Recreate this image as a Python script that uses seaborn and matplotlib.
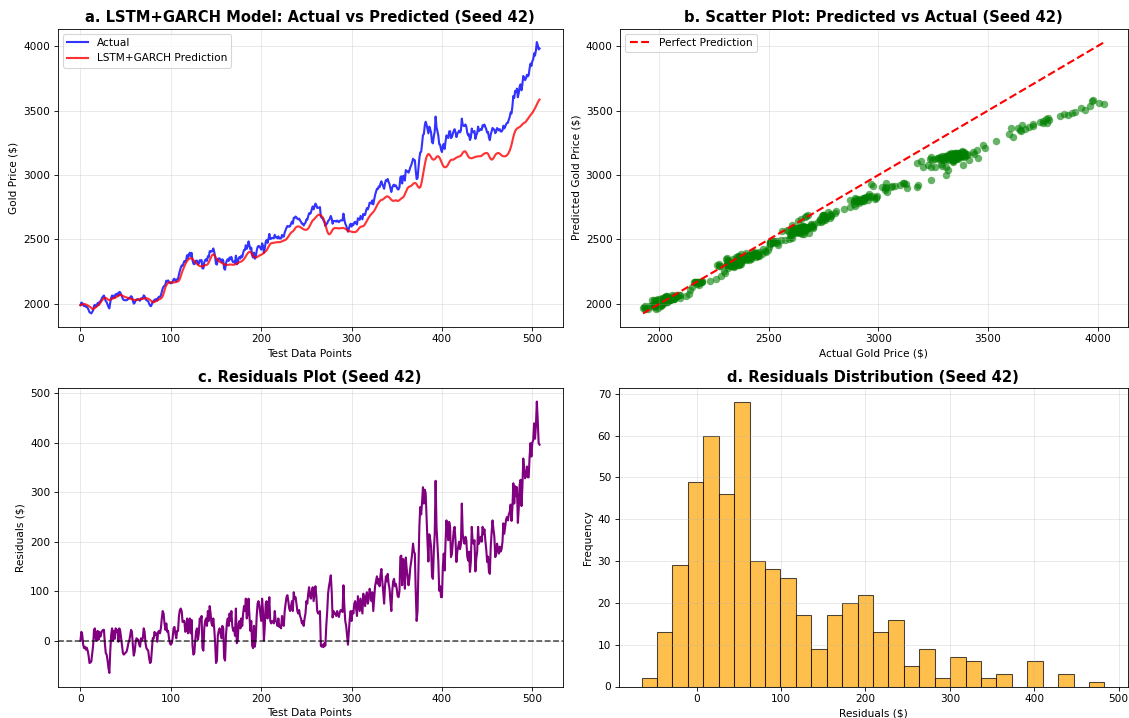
import numpy as np
import pandas as pd
import matplotlib
matplotlib.use("Agg")
import matplotlib.pyplot as plt
import seaborn as sns

# Model output on the test window (USD per ounce)
predicted = [
    1990, 1992, 1995, 1998, 1999, 1998, 1995, 1992, 1988, 1984,
    1980, 1975, 1968, 1962, 1960, 1963, 1968, 1975, 1982, 1987,
    1990, 1998, 2008, 2018, 2028, 2036, 2043, 2048, 2046, 2042,
    2036, 2031, 2030, 2032, 2036, 2040, 2043, 2045, 2046, 2050,
    2055, 2060, 2064, 2068, 2070, 2069, 2066, 2062, 2058, 2055,
    2052, 2050, 2048, 2046, 2043, 2040, 2038, 2036, 2034, 2032,
    2030, 2029, 2030, 2032, 2034, 2036, 2037, 2038, 2039, 2040,
    2041, 2042, 2043, 2044, 2042, 2040, 2036, 2032, 2025, 2018,
    2013, 2012, 2015, 2019, 2023, 2027, 2031, 2035, 2038, 2042,
    2048, 2060, 2080, 2105, 2128, 2145, 2155, 2162, 2166, 2168,
    2168, 2167, 2166, 2166, 2167, 2168, 2170, 2172, 2174, 2180,
    2195, 2215, 2238, 2258, 2275, 2292, 2308, 2322, 2333, 2342,
    2348, 2352, 2355, 2354, 2348, 2340, 2332, 2324, 2316, 2310,
    2304, 2298, 2294, 2291, 2290, 2291, 2294, 2297, 2300, 2302,
    2303, 2310, 2322, 2338, 2355, 2370, 2380, 2385, 2380, 2368,
    2355, 2345, 2338, 2332, 2328, 2324, 2320, 2316, 2312, 2308,
    2305, 2303, 2302, 2302, 2303, 2305, 2306, 2305, 2304, 2303,
    2304, 2306, 2309, 2312, 2316, 2320, 2324, 2327, 2329, 2333,
    2340, 2348, 2358, 2370, 2382, 2392, 2400, 2405, 2404, 2396,
    2385, 2375, 2367, 2362, 2360, 2362, 2366, 2370, 2375, 2379,
    2381, 2385, 2390, 2396, 2402, 2407, 2415, 2428, 2442, 2455,
    2464, 2470, 2472, 2473, 2474, 2476, 2477, 2478, 2479, 2479,
    2479, 2480, 2482, 2485, 2488, 2491, 2494, 2497, 2503, 2512,
    2522, 2533, 2543, 2552, 2558, 2562, 2570, 2580, 2590, 2597,
    2600, 2601, 2600, 2597, 2592, 2587, 2582, 2578, 2576, 2575,
    2575, 2578, 2585, 2595, 2608, 2622, 2636, 2648, 2653, 2660,
    2668, 2676, 2684, 2690, 2692, 2691, 2687, 2680, 2672, 2660,
    2640, 2615, 2590, 2565, 2548, 2540, 2542, 2550, 2562, 2575,
    2583, 2588, 2588, 2588, 2587, 2587, 2586, 2586, 2587, 2588,
    2589, 2588, 2586, 2583, 2578, 2573, 2568, 2565, 2563, 2562,
    2560, 2558, 2557, 2557, 2557, 2560, 2566, 2574, 2584, 2592,
    2598, 2600, 2601, 2603, 2610, 2620, 2632, 2645, 2658, 2670,
    2680, 2690, 2698, 2705, 2712, 2722, 2734, 2748, 2762, 2775,
    2786, 2795, 2802, 2806, 2808, 2812, 2818, 2825, 2830, 2834,
    2834, 2830, 2824, 2816, 2808, 2802, 2799, 2800, 2802, 2804,
    2800, 2799, 2800, 2805, 2812, 2818, 2822, 2826, 2836, 2852,
    2870, 2886, 2898, 2906, 2910, 2912, 2916, 2922, 2930, 2936,
    2938, 2936, 2928, 2915, 2905, 2900, 2905, 2925, 2960, 3000,
    3040, 3080, 3115, 3140, 3155, 3163, 3160, 3150, 3138, 3126,
    3120, 3119, 3122, 3130, 3140, 3145, 3145, 3138, 3125, 3108,
    3090, 3075, 3065, 3060, 3060, 3064, 3072, 3084, 3098, 3110,
    3117, 3119, 3118, 3120, 3125, 3130, 3135, 3138, 3141, 3144,
    3145, 3150, 3160, 3172, 3180, 3184, 3182, 3172, 3158, 3145,
    3136, 3132, 3130, 3130, 3132, 3135, 3138, 3140, 3142, 3144,
    3145, 3145, 3145, 3146, 3150, 3156, 3162, 3166, 3169, 3171,
    3170, 3164, 3150, 3135, 3124, 3119, 3122, 3130, 3142, 3155,
    3163, 3168, 3171, 3170, 3165, 3158, 3152, 3148, 3145, 3145,
    3145, 3148, 3154, 3162, 3175, 3190, 3210, 3235, 3265, 3295,
    3320, 3340, 3352, 3360, 3365, 3368, 3372, 3378, 3385, 3393,
    3400, 3404, 3408, 3415, 3425, 3435, 3445, 3455, 3465, 3474,
    3482, 3492, 3505, 3518, 3532, 3548, 3562, 3575, 3585,
]

# Forecast errors (actual minus predicted)
residuals = [
    0, 18, 12, -8, -15, -12, -18, -14, -20, -30,
    -45, -44, -42, -25, -10, 22, 25, 3, 0, 20,
    2, 18, 8, 15, 20, 22, 22, -5, -25, -28,
    -40, -55, -65, -20, 12, 25, 0, 20, 4, 25,
    18, 22, -2, 25, 20, 5, -10, -25, -28, -26,
    -24, -22, -15, -5, 0, 10, 22, 18, -10, -30,
    -22, -4, 5, 3, 2, -8, -12, 5, 0, 5,
    25, 18, -5, -15, -18, -20, -35, -45, -43, -20,
    5, 4, 18, 12, 15, -2, 18, 20, 15, 25,
    45, 60, 55, 35, 22, 35, 18, 20, 5, -5,
    -8, -5, 5, 25, 28, 15, 5, 20, 20, 50,
    62, 65, 60, 38, 40, 40, 18, 20, 45, 15,
    36, 45, 15, 42, -10, -28, -25, 0, 20, 25,
    2, 15, 45, 40, 50, -15, -20, 25, 40, 45,
    30, 60, 40, 70, 55, 35, 30, 45, 25, -3,
    -45, -40, 10, 20, 25, 15, 5, 30, 25, -35,
    -40, 10, 35, 45, 30, 55, 40, 60, 30, 20,
    25, 10, 65, -5, 0, 35, 40, 25, 45, 30,
    55, 70, 60, 85, 45, 55, 85, 50, 20, 40,
    -10, -15, 30, -12, 5, 50, 75, 80, 70, 55,
    40, 85, 60, 0, 30, 75, 80, 45, 60, 88,
    40, 35, 40, 38, 35, 60, 40, 38, 30, 45,
    28, 30, 25, 50, 35, 30, 60, 75, 88, 92,
    80, 65, 60, 70, 80, 60, 98, 85, 88, 75,
    60, 55, 62, 50, 45, 35, 40, 30, 45, 55,
    80, 75, 95, 108, 90, 85, 100, 108, 80, 95,
    110, 90, 60, 55, 55, 60, -10, -12, -8, -13,
    -5, -10, 30, 58, 95, 110, 120, 132, 100, 47,
    60, 55, 55, 50, 60, 52, 48, 58, 62, 60,
    58, 112, 70, 40, 30, 10, -8, 20, 45, 60,
    40, 60, 55, 75, 80, 65, 50, 90, 75, 60,
    85, 70, 55, 95, 80, 70, 90, 98, 75, 85,
    105, 95, 80, 98, 60, 85, 110, 120, 130, 115,
    125, 110, 132, 145, 120, 100, 75, 110, 130, 120,
    135, 115, 105, 80, 60, 100, 120, 125, 110, 115,
    105, 90, 88, 100, 170, 172, 112, 165, 158, 105,
    168, 145, 130, 112, 125, 148, 160, 175, 196, 180,
    176, 100, 40, 60, 150, 230, 270, 255, 280, 310,
    277, 305, 298, 250, 200, 160, 215, 205, 190, 130,
    125, 180, 215, 323, 230, 196, 160, 101, 110, 88,
    88, 150, 176, 142, 200, 243, 220, 203, 240, 230,
    169, 175, 200, 222, 230, 203, 159, 180, 190, 200,
    185, 195, 277, 216, 200, 196, 210, 203, 170, 162,
    180, 139, 160, 230, 200, 196, 203, 140, 166, 180,
    230, 196, 205, 210, 200, 230, 215, 225, 203, 185,
    159, 170, 140, 135, 190, 220, 243, 225, 210, 169,
    175, 196, 185, 176, 190, 180, 185, 200, 237, 216,
    230, 245, 250, 243, 255, 260, 275, 242, 270, 318,
    277, 312, 292, 310, 238, 268, 315, 325, 272, 310,
    368, 345, 328, 335, 352, 330, 330, 372, 399, 372,
    400, 405, 439, 408, 435, 483, 446, 399, 396,
]

n = min(len(predicted), len(residuals))
predicted_arr = np.array(predicted[:n], dtype=float)
residual_arr = np.array(residuals[:n], dtype=float)
actual_arr = predicted_arr + residual_arr
idx = np.arange(n)

df = pd.DataFrame({"idx": idx, "actual": actual_arr,
                   "predicted": predicted_arr, "residual": residual_arr})

W, H, DPI = 1129, 718, 76
fig, axes = plt.subplots(2, 2, figsize=(W / DPI, H / DPI), dpi=DPI)
ax_a, ax_b = axes[0]
ax_c, ax_d = axes[1]

def place(ax, left, top, right, bottom):
    ax.set_position([left / W, 1 - bottom / H, (right - left) / W, (bottom - top) / H])

place(ax_a, 57.5, 28.5, 562.5, 327)
place(ax_b, 620, 28.5, 1127.5, 327)
place(ax_c, 57.5, 388, 562.5, 686.5)
place(ax_d, 618.5, 388, 1127.5, 686.5)

title_kw = dict(fontsize=14, fontweight="bold")

# a. actual vs predicted over the test window
sns.lineplot(data=df, x="idx", y="actual", ax=ax_a, color="blue", alpha=0.8,
             linewidth=2, label="Actual")
sns.lineplot(data=df, x="idx", y="predicted", ax=ax_a, color="red", alpha=0.8,
             linewidth=2, label="LSTM+GARCH Prediction")
ax_a.set_title("a. LSTM+GARCH Model: Actual vs Predicted (Seed 42)", **title_kw)
ax_a.set_xlabel("Test Data Points")
ax_a.set_ylabel("Gold Price ($)")
ax_a.legend(loc="upper left")
ax_a.grid(True, alpha=0.3)

# b. predicted against actual
sns.scatterplot(data=df, x="actual", y="predicted", ax=ax_b, color="green",
                alpha=0.6, s=50, linewidth=0)
lo, hi = actual_arr.min(), actual_arr.max()
ax_b.plot([lo, hi], [lo, hi], "r--", linewidth=2, label="Perfect Prediction")
ax_b.set_title("b. Scatter Plot: Predicted vs Actual (Seed 42)", **title_kw)
ax_b.set_xlabel("Actual Gold Price ($)")
ax_b.set_ylabel("Predicted Gold Price ($)")
ax_b.legend(loc="upper left")
ax_b.grid(True, alpha=0.3)

# c. residuals over time
sns.lineplot(data=df, x="idx", y="residual", ax=ax_c, color="purple", linewidth=2)
ax_c.axhline(0, color="black", linestyle="--", alpha=0.7)
ax_c.set_title("c. Residuals Plot (Seed 42)", **title_kw)
ax_c.set_xlabel("Test Data Points")
ax_c.set_ylabel("Residuals ($)")
ax_c.grid(True, alpha=0.3)

# d. distribution of residuals
sns.histplot(data=df, x="residual", bins=30, ax=ax_d, color="orange", alpha=0.7,
             edgecolor=(0, 0, 0, 0.7), linewidth=1)
ax_d.set_title("d. Residuals Distribution (Seed 42)", **title_kw)
ax_d.set_xlabel("Residuals ($)")
ax_d.set_ylabel("Frequency")
ax_d.grid(True, alpha=0.3)

fig.savefig("out.png", dpi=DPI)
